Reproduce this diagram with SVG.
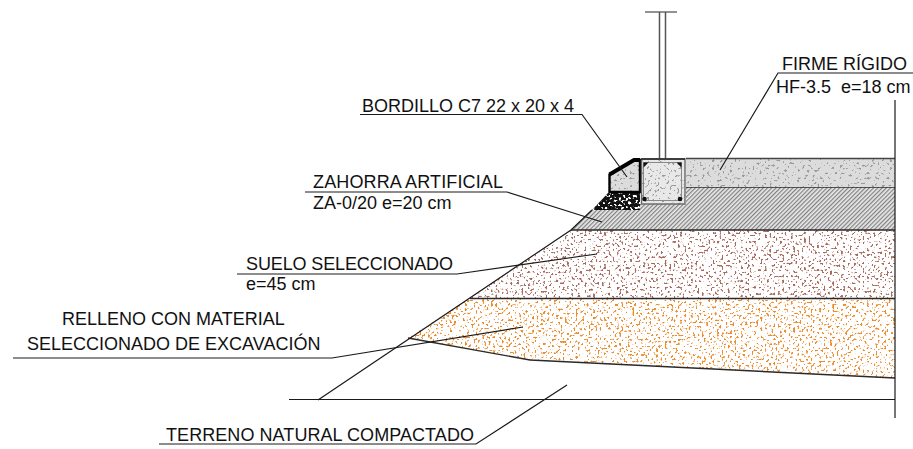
<svg xmlns="http://www.w3.org/2000/svg" width="913" height="449" viewBox="0 0 913 449">
<style>
text{font-family:"Liberation Sans",Arial,sans-serif;font-size:18px;fill:#111}
.l{stroke:#1a1a1a;stroke-width:1.2;fill:none}
.b{stroke:#2a2a2a;stroke-width:1.4;fill:none}
</style>
<defs>
<pattern id="hatch" width="3" height="3" patternUnits="userSpaceOnUse" patternTransform="rotate(-45)">
<rect width="3" height="3" fill="#e8e8e8"/><rect width="3" height="1.2" fill="#808080"/>
</pattern>
<filter id="fBrown" x="0" y="0" width="1" height="1" color-interpolation-filters="sRGB">
<feTurbulence type="fractalNoise" baseFrequency="0.46" numOctaves="1" seed="4"/>
<feColorMatrix values="0 0 0 0 .66 0 0 0 0 .42 0 0 0 0 .37 12 0 0 0 -6.900"/>
<feComposite in2="SourceAlpha" operator="in" result="s"/>
<feMerge><feMergeNode in="SourceGraphic"/><feMergeNode in="s"/></feMerge>
</filter>
<filter id="fOrange" x="0" y="0" width="1" height="1" color-interpolation-filters="sRGB">
<feTurbulence type="fractalNoise" baseFrequency="0.46" numOctaves="1" seed="9"/>
<feColorMatrix values="0 0 0 0 .92 0 0 0 0 .55 0 0 0 0 .18 12 0 0 0 -6.900"/>
<feComposite in2="SourceAlpha" operator="in" result="s"/>
<feMerge><feMergeNode in="SourceGraphic"/><feMergeNode in="s"/></feMerge>
</filter>
<filter id="fGrey" x="0" y="0" width="1" height="1" color-interpolation-filters="sRGB">
<feTurbulence type="fractalNoise" baseFrequency="0.4" numOctaves="1" seed="2"/>
<feColorMatrix values="0 0 0 0 .6 0 0 0 0 .6 0 0 0 0 .6 12 0 0 0 -7.300"/>
<feComposite in2="SourceAlpha" operator="in" result="s"/>
<feMerge><feMergeNode in="SourceGraphic"/><feMergeNode in="s"/></feMerge>
</filter>
<filter id="fGravel" x="0" y="0" width="1" height="1" color-interpolation-filters="sRGB">
<feTurbulence type="fractalNoise" baseFrequency="0.42" numOctaves="1" seed="7"/>
<feColorMatrix values="0 0 0 0 1 0 0 0 0 1 0 0 0 0 1 12 0 0 0 -6.600"/>
<feComposite in2="SourceAlpha" operator="in" result="s"/>
<feMerge><feMergeNode in="SourceGraphic"/><feMergeNode in="s"/></feMerge>
</filter>
</defs>
<rect width="913" height="449" fill="#fff"/>

<g id="relleno">
<polygon points="408,338 470,298 895,298 895,378 530,360" fill="#fff" filter="url(#fOrange)"/>
<path class="b" d="M408,338 L530,360 L895,378"/>
</g>
<g id="suelo">
<polygon points="470,298 572,230 895,230 895,298" fill="#fff" filter="url(#fBrown)"/>
<path class="b" d="M470,298.500H895"/>
</g>
<g id="zahorra">
<polygon points="571,230 592,210 640,210 640,204 686,204 686,187 895,187 895,230" fill="url(#hatch)"/>
<path class="b" d="M571,230H895M686,187H895"/>
</g>
<g id="gravel">
<polygon points="592,210 608,193 640,193 640,210" fill="#111" filter="url(#fGravel)"/>
</g>
<g id="firme">
<rect x="686" y="158.500" width="209" height="28.500" fill="#dcdcdc" filter="url(#fGrey)"/>
<path d="M686,158.500H895" stroke="#444" stroke-width="1.400" fill="none"/>
</g>
<g id="bordillo">
<polygon points="609.500,174.500 634,160 640,160 640,192 609.500,192" fill="#dcdcdc" filter="url(#fGrey)" />
<polygon points="609.500,174.500 634,160 640,160 640,192 609.500,192" fill="none" stroke="#000" stroke-width="2.400"/>
<path d="M609.500,174.500L634,160H640" fill="none" stroke="#000" stroke-width="4"/>
</g>
<g id="poste">
<path d="M645,12H677" stroke="#777" stroke-width="1.600" fill="none"/>
<path d="M659.500,12V158M665.500,12V158" stroke="#555" stroke-width="1.500" fill="none"/>
<rect x="641.500" y="159" width="43.500" height="45" fill="#e8e8e8" filter="url(#fGrey)"/>
<rect x="641.500" y="159" width="43.500" height="45" fill="none" stroke="#666" stroke-width="1.400"/>
<path d="M641,159H685" stroke="#222" stroke-width="1.600"/>
<rect x="643.500" y="162.500" width="38" height="38" fill="none" stroke="#888" stroke-width="1"/>
<path d="M643.500,162.500h5l-5,5zM681.500,162.500h-5l5,5z" fill="#111"/>
<circle cx="644.500" cy="199" r="2.300" fill="#111"/><circle cx="680" cy="199" r="2.300" fill="#111"/>
</g>
<g id="terreno">
<path class="l" d="M318,400 L571,230 L592,210"/>
<path class="l" d="M289,399.500H895"/>
<path class="l" d="M895,100V418" stroke-width="1.600"/>
</g>

<g id="connectors">
<path class="l" d="M913,73H778L720,170"/>
<path class="l" d="M360,114.500H582L627,177"/>
<path class="l" d="M305,192H507L602,222"/>
<path class="l" d="M237,274H457L597,254"/>
<path class="l" d="M13,358H332L523,327"/>
<path class="l" d="M159,444H476L567,385"/>
</g>

<g id="labels">
<text x="782" y="70">FIRME RÍGIDO</text>
<text x="776" y="93" xml:space="preserve">HF-3.5  e=18 cm</text>
<text x="362" y="112">BORDILLO C7 22 x 20 x 4</text>
<text x="313" y="187.500" textLength="190" lengthAdjust="spacing">ZAHORRA ARTIFICIAL</text>
<text x="313" y="209">ZA-0/20 e=20 cm</text>
<text x="246" y="269.500" textLength="207">SUELO SELECCIONADO</text>
<text x="246" y="290">e=45 cm</text>
<text x="62" y="325">RELLENO CON MATERIAL</text>
<text x="27" y="350">SELECCIONADO DE EXCAVACIÓN</text>
<text x="166" y="440.500" textLength="308">TERRENO NATURAL COMPACTADO</text>
</g>
</svg>
